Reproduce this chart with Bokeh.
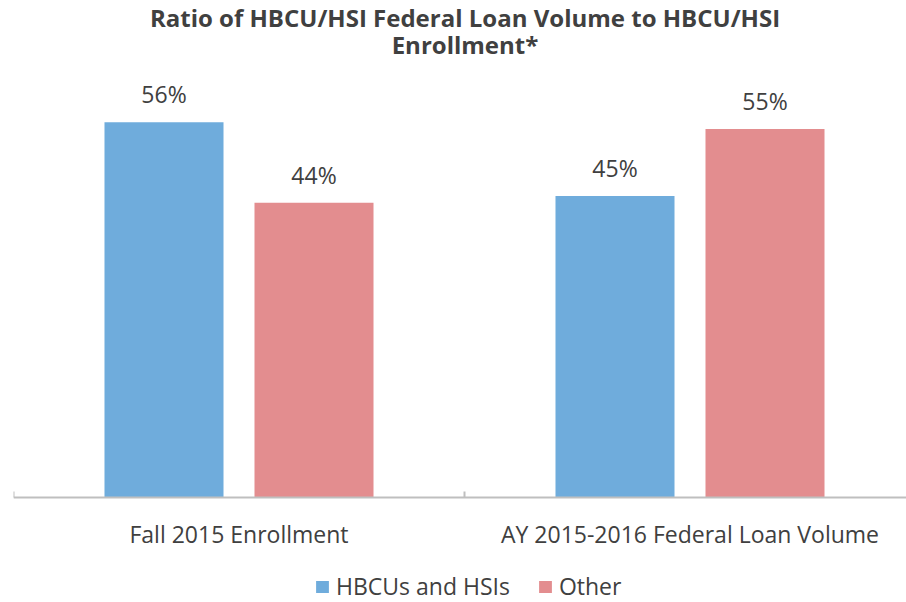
from bokeh.plotting import figure
from bokeh.models import Range1d, FixedTicker, Label, Legend, LegendItem, ColumnDataSource
from bokeh.core.properties import value
from bokeh.embed import file_html
from bokeh.resources import INLINE

categories = ["Fall 2015 Enrollment", "AY 2015-2016 Federal Loan Volume"]
series_names = ["HBCUs and HSIs", "Other"]
hbcu_values = [0.56, 0.45]
other_values = [0.44, 0.55]
colors = ["#6FACDC", "#E38D8F"]
title_lines = ["Ratio of HBCU/HSI Federal Loan Volume to HBCU/HSI", "Enrollment*"]

FONT = "Open Sans"
TXT = "#404040"

PX_PER_UNIT = 670  # vertical pixels per 100%
p = figure(width=906, height=602, output_backend="svg", toolbar_location=None,
           x_range=Range1d(0, 893 / 451),
           y_range=Range1d(-105 / PX_PER_UNIT, 497 / PX_PER_UNIT),
           y_axis_location=None, min_border_left=13, min_border_right=0,
           min_border_top=0, min_border_bottom=0)
p.outline_line_color = None
p.grid.visible = False
p.background_fill_color = "white"

centers = [i + 0.5 for i in range(len(categories))]
offset = 0.1663
bw = 0.2639
renderers = []
for k, (vals, col, name) in enumerate(zip([hbcu_values, other_values], colors, series_names)):
    xs = [c + (-offset if k == 0 else offset) for c in centers]
    src = ColumnDataSource(dict(x=xs, top=vals, lab=[f"{round(v*100)}%" for v in vals]))
    r = p.vbar(x="x", top="top", width=bw, bottom=0, source=src, fill_color=col, line_color=None)
    renderers.append((name, r))
    p.text(x="x", y="top", text="lab", source=src, text_align="center", text_baseline="alphabetic",
           y_offset=-28, text_font=value(FONT), text_font_size="23px", text_color=TXT)

ax = p.xaxis[0]
ax.fixed_location = 0
ax.ticker = FixedTicker(ticks=centers, minor_ticks=[0, 1, 2])
ax.major_label_overrides = {c: n for c, n in zip(centers, categories)}
ax.major_tick_line_color = None
ax.minor_tick_in = 6
ax.minor_tick_out = 0
ax.minor_tick_line_color = "#BFBFBF"
ax.minor_tick_line_width = 2
ax.axis_line_color = "#BFBFBF"
ax.axis_line_width = 2
ax.major_label_text_font = FONT
ax.major_label_text_font_size = "23px"
ax.major_label_text_color = TXT
ax.major_label_standoff = 14

legend = Legend(items=[LegendItem(label=n, renderers=[r]) for n, r in renderers],
                orientation="horizontal", location=(301, 0),
                label_text_font=FONT, label_text_font_size="23px", label_text_color=TXT,
                glyph_width=16, glyph_height=15, label_standoff=6, spacing=27,
                padding=0, margin=0, border_line_color=None, background_fill_alpha=0)
p.add_layout(legend, "center")

for line, yy in zip(title_lines, [585, 558]):
    p.add_layout(Label(x=451.5, y=yy, x_units="screen", y_units="screen", text=line,
                       text_align="center", text_baseline="alphabetic", text_font=FONT,
                       text_font_style="bold", text_font_size="24px", text_color=TXT))

open("out.html", "w").write(file_html(p, INLINE))
